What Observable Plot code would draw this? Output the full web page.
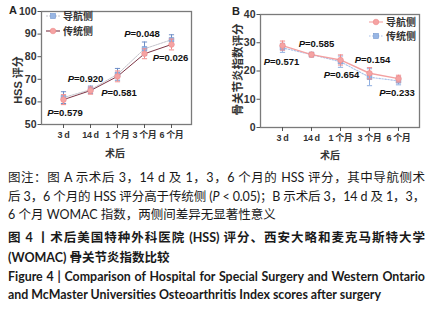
<!DOCTYPE html>
<html>
<head>
<meta charset="utf-8">
<script src="https://cdn.jsdelivr.net/npm/d3@7"></script>
<script src="https://cdn.jsdelivr.net/npm/@observablehq/plot@0.6"></script>
<style>
  html, body { margin: 0; padding: 0; background: #fff; }
  #wrap { position: relative; width: 430px; height: 317px; overflow: hidden; font-family: "Liberation Sans", "Noto Sans CJK SC", sans-serif; }
  .panel { position: absolute; top: 0; }
  .plabel { position: absolute; font-weight: bold; font-size: 11px; color: #222; }
  .leg { position: absolute; display: flex; align-items: center; font-size: 10px; font-weight: bold; color: #333; font-family: "Noto Sans CJK SC", sans-serif; white-space: nowrap; line-height: 12px; }
  .leg svg { display: block; margin-right: 2px; }
  .cap { position: absolute; left: 8px; width: 417px; white-space: nowrap; color: #1a1a1a; }
  .zh { font-family: "Lato", "Noto Sans CJK SC", sans-serif; font-size: 12.5px; }
  .full { text-align: justify; text-align-last: justify; }
  .en { font-family: "Lato", "Noto Sans CJK SC", sans-serif; font-size: 12.4px; font-weight: bold; }
  .b { font-weight: bold; }
</style>
</head>
<body>
<div id="wrap">
  <div id="pa" class="panel" style="left:0"></div>
  <div id="pb" class="panel" style="left:215px"></div>
  <div class="plabel" style="left:9px; top:4px;">A</div>
  <div class="plabel" style="left:232px; top:5px;">B</div>
  <div id="legA1" class="leg" style="left:46px; top:10px;"></div>
  <div id="legA2" class="leg" style="left:46px; top:25px;"></div>
  <div id="legB1" class="leg" style="left:369px; top:16px;"></div>
  <div id="legB2" class="leg" style="left:369px; top:30px;"></div>
  <div class="cap zh full" style="top:167px;">图注：图 A 示术后 3，14 d 及 1，3，6 个月的 HSS 评分，其中导航侧术</div>
  <div class="cap zh full" style="top:186px; letter-spacing:-0.15px;">后 3，6 个月的 HSS 评分高于传统侧 (<i>P</i> &lt; 0.05)；B 示术后 3，14 d 及 1，3，</div>
  <div class="cap zh" style="top:204px;">6 个月 WOMAC 指数，两侧间差异无显著性意义</div>
  <div class="cap zh full b" style="top:227px;">图 4 丨术后美国特种外科医院 (HSS) 评分、西安大略和麦克马斯特大学</div>
  <div class="cap zh b" style="top:247px;">(WOMAC) 骨关节炎指数比较</div>
  <div class="cap en full" style="top:269px;">Figure 4 | Comparison of Hospital for Special Surgery and Western Ontario</div>
  <div class="cap en" style="top:287px;">and McMaster Universities Osteoarthritis Index scores after surgery</div>
</div>
<script>
// ---- data ----
const cats = ["3 d", "14 d", "1 个月", "3 个月", "6 个月"];
const groups = ["导航侧", "传统侧"];

// Panel A: HSS score
const hssNav = [61.9, 65.4, 72.2, 83.5, 87.5];
const hssNavErr = [2.6, 1.6, 2.6, 3.0, 2.2];
const hssTrad = [61.0, 65.0, 71.3, 81.3, 85.4];
const hssTradErr = [2.2, 1.6, 2.4, 2.2, 2.4];
const hssPText = ["P=0.579", "P=0.920", "P=0.581", "P=0.048", "P=0.026"];
const hssPAt = [55.0, 70.0, 63.8, 90.2, 79.6];
const hssTicks = [50, 60, 70, 80, 90, 100];

// Panel B: WOMAC index
const womacNav = [29.0, 25.8, 23.9, 19.2, 17.3];
const womacNavErr = [1.6, 0.8, 1.8, 2.0, 1.2];
const womacTrad = [28.2, 25.8, 23.3, 17.8, 16.5];
const womacTradErr = [1.6, 0.8, 2.0, 3.0, 1.4];
const womacPText = ["P=0.571", "P=0.585", "P=0.654", "P=0.154", "P=0.233"];
const womacPAt = [23.3, 29.7, 18.7, 24.0, 12.3];
const womacTicks = [0, 10, 20, 30, 40];

// ---- styles ----
const BLUE = "#98b6e4", BLUE_S = "#7296cf", PINK = "#f5a3a3", PINK_S = "#ee8a8a";
const FONT = "Liberation Sans, Noto Sans CJK SC, sans-serif";

function rows(vals, errs, g) {
  return cats.map((c, i) => ({cat: c, group: g, v: vals[i], e: errs[i]}));
}

// horizontal cap symbol for error bars
const capSymbol = {draw(context) { context.moveTo(-2.6, 0); context.lineTo(2.6, 0); }};

function errMarks(data, color) {
  return [
    Plot.ruleX(data, {x: "cat", y1: d => d.v - d.e, y2: d => d.v + d.e, stroke: color, strokeWidth: 1}),
    Plot.dot(data, {x: "cat", y: d => d.v + d.e, symbol: capSymbol, fill: "none", stroke: color, strokeWidth: 1}),
    Plot.dot(data, {x: "cat", y: d => d.v - d.e, symbol: capSymbol, fill: "none", stroke: color, strokeWidth: 1})
  ];
}

function italicP(svg, pDx) {
  const ns = "http://www.w3.org/2000/svg";
  let k = 0;
  svg.querySelectorAll("text").forEach(t => {
    const s = t.textContent;
    if (s.startsWith("P=")) {
      t.textContent = "";
      const a = document.createElementNS(ns, "tspan");
      a.setAttribute("font-style", "italic");
      a.textContent = "P";
      t.appendChild(a);
      t.appendChild(document.createTextNode(s.slice(1)));
      const cur = t.getAttribute("transform") || "";
      t.setAttribute("transform", cur + ` translate(${pDx[k] || 0},0)`);
      k++;
    }
  });
}

function panel(opts) {
  const {navRows, tradRows, pText, pAt, pDx, ticks, yDomain, ml, mr, mt, mb, align, padding, ylabel, ylabDx, ylabDy, xlabDx, xlabDy, navOnTop, lineA, lineB, ylabSize} = opts;
  const pRows = cats.map((c, i) => ({cat: c, y: pAt[i], t: pText[i]}));
  const navLine = Plot.line(navRows, {x: "cat", y: "v", ...lineA});
  const tradLine = Plot.line(tradRows, {x: "cat", y: "v", ...lineB});
  const navDots = Plot.dot(navRows, {x: "cat", y: "v", symbol: opts.navSymbol, r: opts.navR, fill: opts.navFill, stroke: opts.navStroke, strokeWidth: 0.6});
  const tradDots = Plot.dot(tradRows, {x: "cat", y: "v", symbol: opts.tradSymbol, r: opts.tradR, fill: opts.tradFill, stroke: opts.tradStroke, strokeWidth: 0.6});
  const navErr = errMarks(navRows, opts.navErrColor);
  const tradErr = errMarks(tradRows, opts.tradErrColor);
  const seriesMarks = navOnTop
    ? [tradLine, navLine, ...tradErr, tradDots, ...navErr, navDots]
    : [navLine, tradLine, ...navErr, navDots, ...tradErr, tradDots];
  const svg = Plot.plot({
    width: 215, height: 165,
    marginLeft: ml, marginRight: mr, marginTop: mt, marginBottom: mb,
    style: {fontFamily: FONT, background: "transparent", overflow: "visible"},
    x: {type: "point", domain: cats, padding, align},
    y: {domain: yDomain},
    marks: [
      Plot.frame({stroke: "#7a7a7a", strokeWidth: 1.3}),
      Plot.axisY({ticks, tickSize: 3.5, tickPadding: 1.5, fontSize: 10.5, fontWeight: "bold", fill: "#333", stroke: "#555", label: null}),
      Plot.axisX({tickSize: 4, tickPadding: 3, fontSize: 9, fontWeight: "bold", fill: "#333", stroke: "#555", label: null}),
      ...seriesMarks,
      Plot.text(pRows, {x: "cat", y: "y", text: "t", fontSize: 9.5, fontWeight: "bold", fill: "#111"}),
      Plot.text([ylabel], {frameAnchor: "left", textAnchor: "middle", lineAnchor: "middle", dx: ylabDx, dy: ylabDy, rotate: -90, fontSize: ylabSize, fontWeight: "bold", fill: "#333"}),
      Plot.text(["术后"], {frameAnchor: "bottom", textAnchor: "middle", lineAnchor: "middle", dx: xlabDx, dy: xlabDy, fontSize: 10, fontWeight: "bold", fill: "#333"})
    ]
  });
  italicP(svg, pDx);
  svg.querySelectorAll("g[aria-label='x-axis tick label'] text").forEach(t => t.setAttribute("letter-spacing", "-0.4"));
  return svg;
}

const hssNavRows = rows(hssNav, hssNavErr, groups[0]);
const hssTradRows = rows(hssTrad, hssTradErr, groups[1]);
const womacNavRows = rows(womacNav, womacNavErr, groups[0]);
const womacTradRows = rows(womacTrad, womacTradErr, groups[1]);

const svgA = panel({
  navRows: hssNavRows, tradRows: hssTradRows,
  pText: hssPText, pAt: hssPAt, pDx: [1.5, -5, 1.5, -2.5, -1],
  ticks: hssTicks, yDomain: [50, 100],
  ml: 41, mr: 24, mt: 11, mb: 41, padding: 0.68, align: 0.53,
  ylabel: "HSS 评分", ylabDx: -23, ylabDy: 12, ylabSize: 11,
  xlabDx: -1.5, xlabDy: 29,
  navOnTop: false,
  lineA: {stroke: "#c4c4cc", strokeWidth: 1, strokeDasharray: "2,1"},
  lineB: {stroke: "#7d3545", strokeWidth: 1},
  navSymbol: "square", navR: 2.6, navFill: BLUE, navStroke: BLUE_S,
  tradSymbol: "circle", tradR: 2.8, tradFill: PINK, tradStroke: PINK_S,
  navErrColor: "#6f8fc8", tradErrColor: "#f08d8d"
});
document.getElementById("pa").appendChild(svgA);

const svgB = panel({
  navRows: womacNavRows, tradRows: womacTradRows,
  pText: womacPText, pAt: womacPAt, pDx: [-1, 5, 1, 3, -1.5],
  ticks: womacTicks, yDomain: [0, 40],
  ml: 45, mr: 11, mt: 14, mb: 38, padding: 0.67, align: 0.5,
  ylabel: "骨关节炎指数评分", ylabDx: -22, ylabDy: -1.5, ylabSize: 11.5,
  xlabDx: -10, xlabDy: 28,
  navOnTop: true,
  lineA: {stroke: "#f3a0a0", strokeWidth: 1.4},
  lineB: {stroke: "#a9c2ea", strokeWidth: 1.1, strokeDasharray: "1.5,1.5"},
  navSymbol: "circle", navR: 2.8, navFill: PINK, navStroke: PINK_S,
  tradSymbol: "square", tradR: 2.6, tradFill: BLUE, tradStroke: BLUE_S,
  navErrColor: "#f08d8d", tradErrColor: "#8eaee0"
});
document.getElementById("pb").appendChild(svgB);

// ---- legends ----
function swatch(symbol, fill, stroke, line, dash) {
  const sym = symbol === "square"
    ? `<rect x="4.5" y="2.5" width="5" height="5" fill="${fill}" stroke="${stroke}" stroke-width="0.6"/>`
    : `<circle cx="7" cy="5" r="2.8" fill="${fill}" stroke="${stroke}" stroke-width="0.6"/>`;
  return `<svg width="15" height="10"><line x1="0" y1="5" x2="14" y2="5" stroke="${line}" stroke-width="1.1" ${dash ? `stroke-dasharray="${dash}"` : ""}/>${sym}</svg>`;
}
document.getElementById("legA1").innerHTML = swatch("square", BLUE, BLUE_S, "#c4c4cc", "2,1") + "<span>" + groups[0] + "</span>";
document.getElementById("legA2").innerHTML = swatch("circle", PINK, PINK_S, "#7d3545", null) + "<span>" + groups[1] + "</span>";
document.getElementById("legB1").innerHTML = swatch("circle", PINK, PINK_S, "#f3a0a0", null) + "<span>" + groups[0] + "</span>";
document.getElementById("legB2").innerHTML = swatch("square", BLUE, BLUE_S, "#a9c2ea", "1.5,1.5") + "<span>" + groups[1] + "</span>";
</script>
</body>
</html>
